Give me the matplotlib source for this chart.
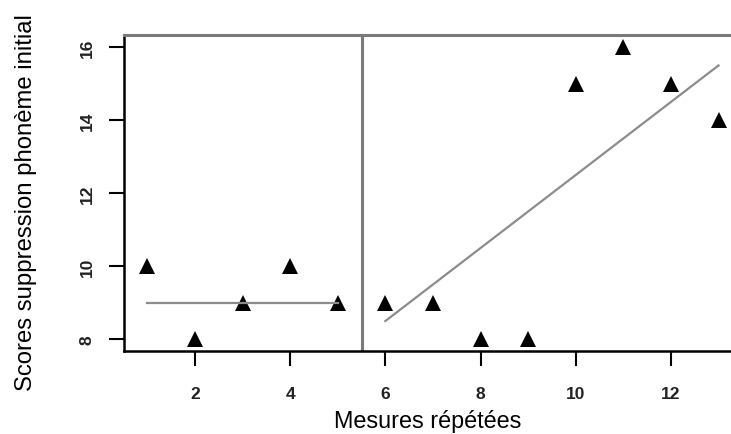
import matplotlib
matplotlib.use("Agg")
import matplotlib.pyplot as plt

# repeated measures, phase A = 1..5, phase B = 6..13
mesures = [1, 2, 3, 4, 5, 6, 7, 8, 9, 10, 11, 12, 13]
scores = [10, 8, 9, 10, 9, 9, 9, 8, 8, 15, 16, 15, 14]

# trend lines
trend_a_x = [1, 5]
trend_a_y = [9, 9]
trend_b_x = [6, 13]
trend_b_y = [8.5, 15.5]
phase_change = 5.5

x_ticks = [2, 4, 6, 8, 10, 12]
y_ticks = [8, 10, 12, 14, 16]

plt.rcParams['font.family'] = ['Liberation Sans', 'DejaVu Sans']

fig = plt.figure(figsize=(7.31, 4.35), dpi=100)
ax = fig.add_axes([0.1703, 0.1908, 0.8439, 0.7253])

ax.plot(mesures, scores, linestyle='none', marker='^', markersize=11,
        color='black', markeredgewidth=0)
ax.plot(trend_a_x, trend_a_y, color='#8c8c8c', linewidth=1.6)
ax.plot(trend_b_x, trend_b_y, color='#8c8c8c', linewidth=1.6)
ax.axvline(phase_change, color='#7a7a7a', linewidth=2.2)

ax.set_xlim(0.52, 13.48)
ax.set_ylim(7.68, 16.32)
ax.set_xticks(x_ticks)
ax.set_yticks(y_ticks)
ax.set_yticklabels([str(v) for v in y_ticks], rotation=90, va='center')

for side in ['left', 'bottom']:
    ax.spines[side].set_color('black')
    ax.spines[side].set_linewidth(1.8)
ax.spines['top'].set_color('#7a7a7a')
ax.spines['top'].set_linewidth(2.2)
ax.spines['right'].set_visible(False)

ax.tick_params(direction='out', length=10.5, width=1.5, colors='black',
               labelsize=12.5)
ax.tick_params(axis='x', pad=15)
ax.tick_params(axis='y', pad=11)
for lbl in ax.get_xticklabels() + ax.get_yticklabels():
    lbl.set_fontweight('bold')
    lbl.set_color('#222222')

fig.text(427.5 / 731, 7 / 435, 'Mesures répétées', ha='center',
         va='baseline', fontsize=16.8)
fig.text(26 / 731, 1 - 202.5 / 435, 'Scores suppression phonème initial',
         rotation=90, ha='center', va='center', fontsize=17.2)

fig.savefig('out.png', dpi=100)
